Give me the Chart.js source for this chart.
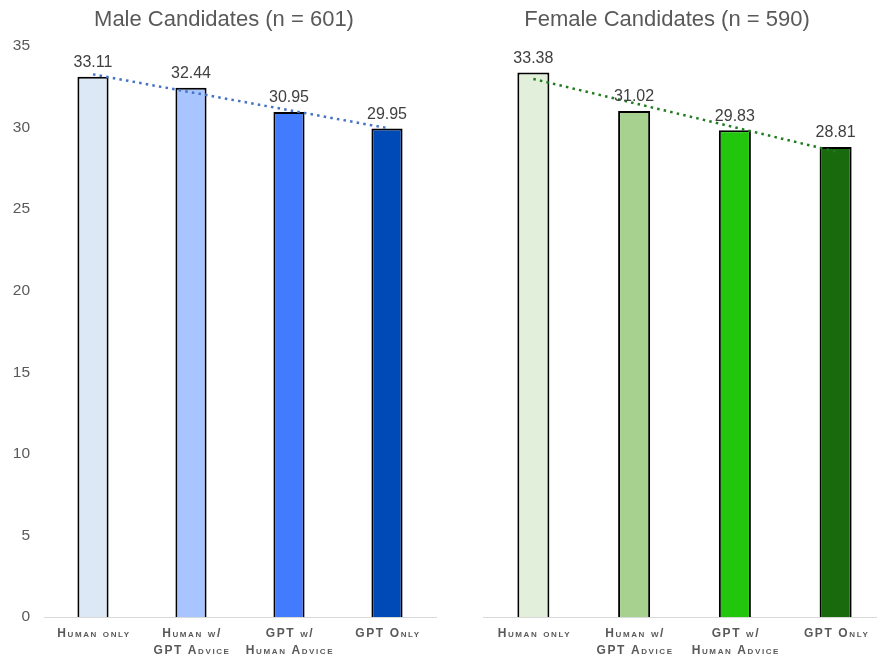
<!DOCTYPE html>
<html>
<head>
<meta charset="utf-8">
<script src="https://cdn.jsdelivr.net/npm/chart.js@4"></script>
<style>
  html, body { margin: 0; padding: 0; background: #fff; overflow: hidden; }
  #wrap { position: relative; width: 877px; height: 657px; overflow: hidden; }
  #male { position: absolute; left: 0; top: 0; }
  #female { position: absolute; left: 438px; top: 0; }
</style>
</head>
<body>
<div id="wrap">
  <canvas id="male" width="438" height="657"></canvas>
  <canvas id="female" width="450" height="657"></canvas>
</div>
<script>
// 資料
const categories = [['Human only'], ['Human w/', 'GPT Advice'], ['GPT w/', 'Human Advice'], ['GPT Only']]
const maleScores = [33.11, 32.44, 30.95, 29.95]
const femaleScores = [33.38, 31.02, 29.83, 28.81]
// trendline endpoints
const maleTrend = [33.26, null, null, 29.97]
const femaleTrend = [32.98, null, null, 28.53]
const yTicks = [0, 5, 10, 15, 20, 25, 30, 35]

const maleColors = ['#dde8f6', '#a9c5ff', '#437bff', '#004ab8']
const femaleColors = ['#e2efda', '#a6d18f', '#22c70d', '#186a0c']

const FONT = '"Liberation Sans", Arial, sans-serif'

// 標題 + 數值標籤 + 類別標籤
const labelPlugin = {
  id: 'labels',
  afterDatasetsDraw (chart) {
    const ctx = chart.ctx
    const meta = chart.getDatasetMeta(0)
    const values = chart.data.datasets[0].data
    ctx.save()
    ctx.font = '16px ' + FONT
    ctx.fillStyle = '#404040'
    ctx.textAlign = 'center'
    ctx.textBaseline = 'bottom'
    meta.data.forEach((bar, i) => {
      ctx.fillText(values[i].toFixed(2), bar.x, bar.y - 6)
    })
    ctx.restore()
  },
  afterDraw (chart, args, opts) {
    const ctx = chart.ctx
    const xScale = chart.scales.x
    ctx.save()
    // title
    ctx.font = '22px ' + FONT
    ctx.fillStyle = '#595959'
    ctx.textAlign = 'center'
    ctx.textBaseline = 'middle'
    ctx.fillText(opts.title, opts.titleX, 20)
    // categories
    ctx.font = 'small-caps bold 12px ' + FONT
    ctx.letterSpacing = '1.6px'
    categories.forEach((lines, i) => {
      const x = xScale.getPixelForValue(i) + 1
      lines.forEach((t, j) => {
        ctx.fillText(t, x, chart.chartArea.bottom + 17 + j * 17)
      })
    })
    ctx.restore()
  }
}

function makeChart (id, title, titleX, scores, trend, colors, trendColor, showY, yWidth, padRight) {
  return new Chart(document.getElementById(id), {
    type: 'bar',
    data: {
      labels: categories.map((c) => c.join(' ')),
      datasets: [{
        type: 'bar',
        data: scores,
        backgroundColor: colors,
        borderColor: '#000',
        borderWidth: 2,
        borderSkipped: 'bottom',
        barPercentage: 0.318,
        categoryPercentage: 1,
        order: 1
      }, {
        type: 'line',
        data: trend,
        spanGaps: true,
        borderColor: trendColor,
        borderWidth: 2.5,
        borderDash: [2.5, 4.2],
        pointRadius: 0,
        fill: false,
        order: 0
      }]
    },
    options: {
      responsive: false,
      animation: false,
      layout: { padding: { left: 0, right: padRight, top: 46, bottom: 0 } },
      plugins: {
        legend: { display: false },
        tooltip: { enabled: false },
        title: { display: false },
        labels: { title: title, titleX: titleX }
      },
      scales: {
        x: {
          grid: { display: false, drawTicks: false },
          border: { display: true, color: '#d9d9d9', width: 1 },
          ticks: { display: false },
          afterFit (scale) { scale.height = 40 }
        },
        y: {
          min: 0,
          max: 35,
          afterBuildTicks (scale) { scale.ticks = yTicks.map((v) => ({ value: v })) },
          grid: { display: false, drawTicks: false },
          border: { display: false },
          ticks: {
            display: showY,
            color: '#595959',
            padding: 14,
            font: { family: FONT, size: 15.5 }
          },
          afterFit (scale) { scale.width = yWidth }
        }
      }
    },
    plugins: [labelPlugin]
  })
}

makeChart('male', 'Male Candidates (n = 601)', 224, maleScores, maleTrend, maleColors, '#4472c4', true, 44, 2)
makeChart('female', 'Female Candidates (n = 590)', 229, femaleScores, femaleTrend, femaleColors, '#1e7b1e', false, 45, 2)
</script>
</body>
</html>
